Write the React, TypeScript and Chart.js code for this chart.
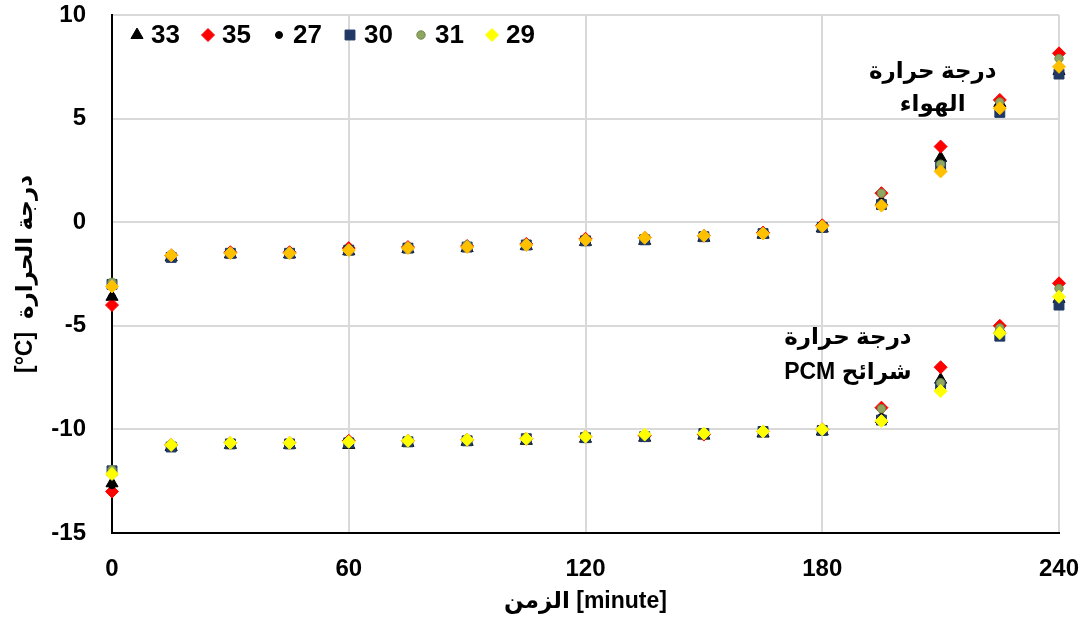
import React, { useEffect, useRef } from "react";
import { Chart, registerables } from "chart.js";
import { drawPoint } from "chart.js/helpers";

Chart.register(...registerables);

const times = [0, 15, 30, 45, 60, 75, 90, 105, 120, 135, 150, 165, 180, 195, 210, 225, 240];
const seriesLabels = ["33", "35", "27", "30", "31", "29"];

// PCM sheet temperatures (lower group)
const pcm33 = [-12.6, -10.85, -10.75, -10.75, -10.75, -10.65, -10.6, -10.55, -10.45, -10.4, -10.3, -10.2, -10.1, -9.5, -7.6, -5.2, -3.7];
const pcm35 = [-13.0, -10.75, -10.65, -10.65, -10.55, -10.55, -10.5, -10.45, -10.35, -10.3, -10.25, -10.1, -10.0, -8.95, -7.0, -5.0, -2.95];
const pcm27 = [-12.7, -10.8, -10.7, -10.7, -10.7, -10.6, -10.55, -10.5, -10.4, -10.35, -10.25, -10.15, -10.05, -9.4, -7.7, -5.3, -3.6];
const pcm30 = [-12.0, -10.85, -10.7, -10.7, -10.65, -10.6, -10.55, -10.45, -10.4, -10.35, -10.2, -10.1, -10.05, -9.55, -7.9, -5.5, -4.0];
const pcm31 = [-11.95, -10.7, -10.65, -10.65, -10.6, -10.55, -10.45, -10.45, -10.35, -10.25, -10.15, -10.1, -10.0, -9.0, -7.75, -5.1, -3.2];
const pcm29 = [-12.15, -10.75, -10.65, -10.65, -10.6, -10.55, -10.5, -10.45, -10.35, -10.25, -10.2, -10.1, -10.0, -9.6, -8.15, -5.35, -3.6];

// Air temperatures (upper group)
const air33 = [-3.6, -1.7, -1.55, -1.55, -1.4, -1.3, -1.25, -1.15, -0.95, -0.9, -0.75, -0.6, -0.3, 1.0, 3.1, 5.75, 7.3];
const air35 = [-4.0, -1.6, -1.45, -1.45, -1.25, -1.2, -1.15, -1.05, -0.8, -0.75, -0.65, -0.5, -0.15, 1.4, 3.65, 5.9, 8.15];
const air27 = [-3.6, -1.65, -1.5, -1.5, -1.35, -1.25, -1.2, -1.1, -0.9, -0.85, -0.7, -0.55, -0.25, 1.0, 2.9, 5.6, 7.5];
const air30 = [-3.0, -1.7, -1.5, -1.5, -1.35, -1.25, -1.2, -1.1, -0.9, -0.85, -0.7, -0.55, -0.25, 0.85, 2.7, 5.3, 7.15];
const air31 = [-2.9, -1.55, -1.45, -1.45, -1.3, -1.2, -1.1, -1.05, -0.85, -0.8, -0.65, -0.5, -0.2, 1.4, 2.8, 5.8, 7.9];
const air29 = [-3.1, -1.6, -1.5, -1.5, -1.35, -1.25, -1.2, -1.1, -0.85, -0.75, -0.65, -0.55, -0.2, 0.8, 2.45, 5.5, 7.5];

const xTicks = [0, 60, 120, 180, 240];
const yTicks = [-15, -10, -5, 0, 5, 10];

const annotations = [
  { x: 208, y: 7.25, text: "درجة حرارة" },
  { x: 208, y: 5.65, text: "الهواء" },
  { x: 186.5, y: -5.55, text: "درجة حرارة" },
  { x: 186.5, y: -7.25, text: "شرائح PCM" },
];

const FONT = '"Liberation Sans", "DejaVu Sans", Arial, sans-serif';

const styles = [
  { pointStyle: "triangle", radius: 7, bg: "#000000", border: "#000000" },
  { pointStyle: "rectRot", radius: 6.5, bg: "#FF0000", border: "#FF0000" },
  { pointStyle: "circle", radius: 3.5, bg: "#000000", border: "#000000" },
  { pointStyle: "rect", radius: 7, bg: "#1F3864", border: "#1F3864" },
  { pointStyle: "circle", radius: 4.2, bg: "#8EA662", border: "#6F8A45" },
  { pointStyle: "rectRot", radius: 6.5, bg: "#FFFF00", border: "#FFFF00" },
];

const toPts = (vals: number[]) => vals.map((v, i) => ({ x: times[i], y: v }));

const legendPlugin = {
  id: "insideLegend",
  afterDatasetsDraw(chart: any) {
    const { ctx, chartArea } = chart;
    ctx.save();
    ctx.font = `bold 26px ${FONT}`;
    ctx.textBaseline = "middle";
    ctx.textAlign = "left";
    const y = chartArea.top + 20;
    seriesLabels.forEach((label, i) => {
      const st = styles[i];
      const cx = chartArea.left + 25 + i * 71;
      ctx.fillStyle = st.bg;
      ctx.strokeStyle = st.border;
      ctx.lineWidth = 1;
      drawPoint(ctx, { pointStyle: st.pointStyle, radius: st.radius, rotation: 0, borderWidth: 1 }, cx, y);
      ctx.fillStyle = "#000000";
      ctx.fillText(label, cx + 14, y + 1);
    });
    ctx.restore();
  },
};

const annotationPlugin = {
  id: "textNotes",
  afterDatasetsDraw(chart: any) {
    const { ctx, scales } = chart;
    ctx.save();
    ctx.font = `bold 23px ${FONT}`;
    ctx.fillStyle = "#000000";
    ctx.textAlign = "center";
    ctx.textBaseline = "middle";
    (ctx as any).direction = "rtl";
    annotations.forEach((a) => {
      ctx.fillText(a.text, scales.x.getPixelForValue(a.x), scales.y.getPixelForValue(a.y));
    });
    ctx.restore();
  },
};

export default function App() {
  const ref = useRef<HTMLCanvasElement | null>(null);

  useEffect(() => {
    if (!ref.current) return;
    const pcm = [pcm33, pcm35, pcm27, pcm30, pcm31, pcm29];
    const air = [air33, air35, air27, air30, air31, air29];
    const mk = (vals: number[], i: number, group: string) => {
      const st = styles[i];
      let bg = st.bg;
      let border = st.border;
      if (group === "air" && i === 5) {
        bg = "#FFC000";
        border = "#FFC000";
      }
      return {
        label: seriesLabels[i] + (group === "air" ? " air" : ""),
        data: toPts(vals),
        showLine: false,
        order: 5 - i,
        pointStyle: st.pointStyle,
        pointRadius: st.radius,
        pointHoverRadius: st.radius,
        pointBackgroundColor: bg,
        pointBorderColor: border,
        pointBorderWidth: 1,
        clip: false,
      };
    };
    const datasets: any[] = [];
    pcm.forEach((v, i) => datasets.push(mk(v, i, "pcm")));
    air.forEach((v, i) => datasets.push(mk(v, i, "air")));

    const chart = new Chart(ref.current, {
      type: "scatter",
      data: { datasets },
      options: {
        animation: false,
        responsive: true,
        maintainAspectRatio: false,
        layout: { padding: { left: 0, right: 25, top: 15, bottom: 0 } },
        plugins: {
          legend: { display: false },
          tooltip: { enabled: false },
        },
        scales: {
          x: {
            type: "linear",
            min: 0,
            max: 240,
            afterBuildTicks: (scale: any) => {
              scale.ticks = xTicks.map((v) => ({ value: v }));
            },
            afterFit: (scale: any) => {
              scale.height = 95;
              scale.paddingLeft = 0;
              scale.paddingRight = 0;
            },
            ticks: {
              font: { family: FONT, size: 24, weight: "bold" },
              color: "#000000",
              padding: 22,
            },
            grid: { color: "#D9D9D9", lineWidth: 2, drawTicks: false },
            border: { color: "#000000", width: 2 },
            title: {
              display: true,
              text: "الزمن [minute]",
              font: { family: FONT, size: 23, weight: "bold" },
              color: "#000000",
              padding: { top: 0, bottom: 13 },
            },
          },
          y: {
            type: "linear",
            min: -15,
            max: 10,
            afterBuildTicks: (scale: any) => {
              scale.ticks = yTicks.map((v) => ({ value: v }));
            },
            afterFit: (scale: any) => {
              scale.width = 112;
              scale.paddingTop = 0;
              scale.paddingBottom = 0;
            },
            ticks: {
              font: { family: FONT, size: 24, weight: "bold" },
              color: "#000000",
              padding: 26,
            },
            grid: { color: "#D9D9D9", lineWidth: 2, drawTicks: false },
            border: { color: "#000000", width: 2 },
            title: {
              display: true,
              text: "[°C]  درجة الحرارة",
              font: { family: FONT, size: 23, weight: "bold" },
              color: "#000000",
              padding: { top: 12, bottom: 0 },
            },
          },
        },
      },
      plugins: [legendPlugin, annotationPlugin],
    } as any);
    return () => chart.destroy();
  }, []);

  return (
    <div style={{ position: "absolute", left: 0, top: 0, width: 1084, height: 628, background: "#ffffff" }}>
      <canvas ref={ref} />
    </div>
  );
}
